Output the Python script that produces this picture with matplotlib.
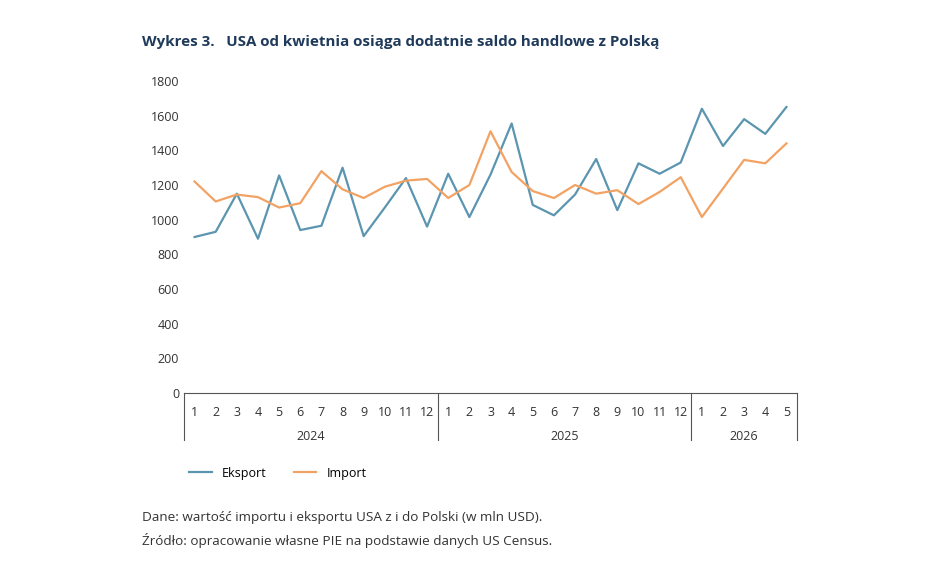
import numpy as np
import matplotlib.pyplot as plt

years = ["2024", "2025", "2026"]
months_per_year = [12, 12, 5]
eksport = [900, 930, 1150, 890, 1255, 940, 965, 1300, 905, 1070, 1240, 960,
           1265, 1015, 1260, 1555, 1085, 1025, 1145, 1350, 1055, 1325, 1265, 1330,
           1640, 1425, 1580, 1495, 1650]
import_ = [1220, 1105, 1145, 1130, 1070, 1095, 1280, 1175, 1125, 1190, 1225, 1235,
           1125, 1200, 1510, 1275, 1165, 1125, 1200, 1150, 1170, 1090, 1160, 1245,
           1015, 1180, 1345, 1325, 1440]
month_labels = [str(m) for n in months_per_year for m in range(1, n + 1)]

plt.rcParams['font.family'] = ['Open Sans', 'DejaVu Sans']
fig = plt.figure(figsize=(9.48, 5.67), dpi=100)
ax = fig.add_axes([184/948, 1 - 393/567, (797 - 184)/948, (393 - 81)/567])

x = np.arange(len(eksport))
ax.plot(x, eksport, color='#5b95b0', lw=1.6, label='Eksport')
ax.plot(x, import_, color='#f2a263', lw=1.6, label='Import')
ax.set_xlim(-0.5, len(x) - 0.5)
ax.set_ylim(0, 1800)
ax.set_yticks(range(0, 1801, 200))
ax.set_xticks(x)
ax.set_xticklabels(month_labels)
ax.tick_params(axis='both', length=0, labelsize=9, colors='#333333')
ax.tick_params(axis='x', pad=9)
for s in ['top', 'right', 'left']:
    ax.spines[s].set_visible(False)
ax.spines['bottom'].set_color('#555555')
ax.spines['bottom'].set_linewidth(0.8)

# year grouping
start = 0
bounds = [-0.5]
for y, n in zip(years, months_per_year):
    ax.text(start + (n - 1) / 2, -0.14, y, transform=ax.get_xaxis_transform(),
            ha='center', va='center', fontsize=9, color='#333333')
    start += n
    bounds.append(start - 0.5)
for b in bounds:
    ax.plot([b, b], [0, -0.15], transform=ax.get_xaxis_transform(),
            color='#555555', lw=0.8, clip_on=False)

ax.legend(loc='upper left', bbox_to_anchor=(-0.01, -0.2), ncol=2, frameon=False,
          fontsize=9, handlelength=1.8, columnspacing=2.2)

fig.text(142/948, 1 - 42/567, 'Wykres 3.   USA od kwietnia osiąga dodatnie saldo handlowe z Polską',
         fontsize=10.9, fontweight='bold', color='#1f3a5a', va='center')
fig.text(142/948, 1 - 518/567, 'Dane: wartość importu i eksportu USA z i do Polski (w mln USD).',
         fontsize=9.7, color='#333333', va='center')
fig.text(142/948, 1 - 540/567, 'Źródło: opracowanie własne PIE na podstawie danych US Census.',
         fontsize=9.7, color='#333333', va='center')

fig.savefig('out.png', dpi=100)
